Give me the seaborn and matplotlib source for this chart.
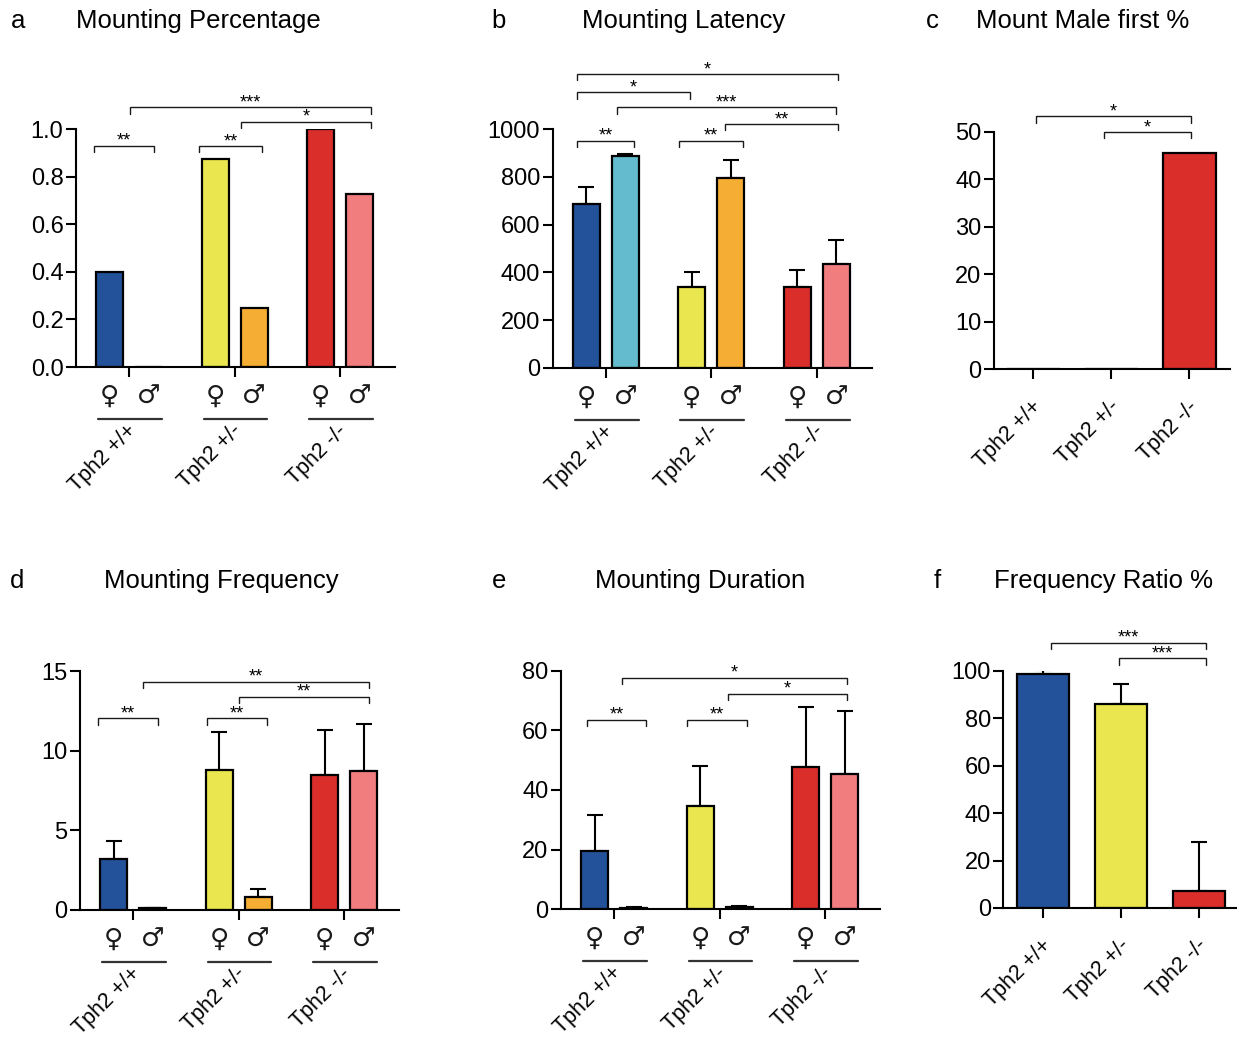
import numpy as np
import pandas as pd
import matplotlib
matplotlib.use("Agg")
import matplotlib.pyplot as plt
import matplotlib.transforms as mtransforms
import seaborn as sns

sns.set_theme(style="ticks")
plt.rcParams["font.family"] = ["Liberation Sans", "DejaVu Sans"]
plt.rcParams["axes.linewidth"] = 1.5
plt.rcParams["text.color"] = "black"
plt.rcParams["xtick.color"] = "black"
plt.rcParams["ytick.color"] = "black"
plt.rcParams["axes.labelcolor"] = "black"

# ---- data -------------------------------------------------------------
genotypes = ["Tph2 +/+", "Tph2 +/-", "Tph2 -/-"]
sexes = ["\u2640", "\u2642"]

pct_female = [0.40, 0.875, 1.0]
pct_male = [0.0, 0.25, 0.727]

lat_female = [685, 338, 340]
lat_female_err = [75, 65, 70]
lat_male = [888, 795, 435]
lat_male_err = [10, 76, 100]

freq_female = [3.2, 8.8, 8.45]
freq_female_err = [1.1, 2.4, 2.85]
freq_male = [0.1, 0.8, 8.75]
freq_male_err = [0.05, 0.5, 2.95]

dur_female = [19.5, 34.8, 47.8]
dur_female_err = [12.0, 13.4, 20.0]
dur_male = [0.5, 0.7, 45.3]
dur_male_err = [0.3, 0.4, 21.3]

first_pct = [0.0, 0.0, 45.5]

ratio_pct = [98.5, 86.0, 7.2]
ratio_err = [1.8, 8.3, 20.5]

female_colors = ["#23529a", "#e9e64f", "#da2e2b"]
male_colors = ["#63bbcd", "#f5ad34", "#f17d7e"]
geno_colors = ["#23529a", "#e9e64f", "#da2e2b"]

# significance brackets: (x_start, x_end, y, label)
brackets_a = [(-0.33, 0.23, 0.93, "**"), (0.657, 1.26, 0.928, "**"),
              (0.003, 2.29, 1.091, "***"), (1.059, 2.29, 1.031, "*")]
brackets_b = [(-0.277, 2.198, 1231, "*"), (-0.277, 0.801, 1155, "*"),
              (0.101, 2.183, 1092, "***"), (-0.277, 0.265, 951, "**"),
              (0.694, 1.30, 952, "**"), (1.132, 2.198, 1021, "**")]
brackets_c = [(0.03, 2.02, 53.2, "*"), (0.91, 2.02, 49.9, "*")]
brackets_d = [(-0.332, 0.231, 12.03, "**"), (0.696, 1.264, 12.03, "**"),
              (0.095, 2.234, 14.33, "**"), (1.002, 2.234, 13.39, "**")]
brackets_e = [(-0.259, 0.303, 63.5, "**"), (0.694, 1.257, 63.5, "**"),
              (0.073, 2.203, 77.7, "*"), (1.077, 2.203, 72.2, "*")]
brackets_f = [(0.095, 2.09, 111.8, "***"), (0.973, 2.09, 105.2, "***")]

W, H = 1237, 1037
fig = plt.figure(figsize=(W / 100, H / 100), dpi=100)


def axes_px(left, right, bottom, top):
    return fig.add_axes([left / W, 1 - bottom / H, (right - left) / W, (bottom - top) / H])


def style_axes(ax, ymax, yticks, fmt):
    ax.set_ylim(0, ymax)
    ax.set_yticks(yticks)
    ax.set_yticklabels([fmt.format(t) for t in yticks], fontsize=17)
    for s in ["top", "right"]:
        ax.spines[s].set_visible(False)
    for s in ["left", "bottom"]:
        ax.spines[s].set_linewidth(1.5)
        ax.spines[s].set_color("black")
    ax.tick_params(axis="both", direction="out", length=7, width=1.5, colors="black",
                   pad=2)
    ax.set_xlabel("")
    ax.set_ylabel("")
    ax.set_facecolor("white")


def draw_brackets(ax, brackets, ymax):
    drop = 0.026 * ymax
    for x1, x2, y, lab in brackets:
        ax.plot([x1, x1, x2, x2], [y - drop, y, y, y - drop], color="#1a1a1a",
                lw=1.0, clip_on=False, solid_joinstyle="miter")
        ax.annotate(lab, xy=((x1 + x2) / 2, y), xytext=(0, 0.0),
                    textcoords="offset points", ha="center", va="baseline",
                    fontsize=13, annotation_clip=False)


def errbars(ax, xs, ys, errs):
    ax.errorbar(xs, ys, yerr=[np.zeros(len(errs)), errs], fmt="none",
                ecolor="black", elinewidth=1.5, capsize=6, capthick=1.5, zorder=1)


def sex_panel(ax, fem, mal, fem_err, mal_err, ymax, yticks, fmt, brackets):
    df = pd.DataFrame({
        "genotype": genotypes * 2,
        "sex": [sexes[0]] * 3 + [sexes[1]] * 3,
        "value": list(fem) + list(mal),
    })
    sns.barplot(data=df, x="genotype", y="value", hue="sex", hue_order=sexes,
                order=genotypes, errorbar=None, width=0.74, gap=0.31,
                edgecolor="black", linewidth=1.6, legend=False, ax=ax, zorder=2)
    for cont, cols in zip(ax.containers, [female_colors, male_colors]):
        for patch, c in zip(cont.patches, cols):
            patch.set_facecolor(c)
            patch.set_zorder(2)
    if fem_err is not None:
        fx = [p.get_x() + p.get_width() / 2 for p in ax.containers[0].patches]
        mx = [p.get_x() + p.get_width() / 2 for p in ax.containers[1].patches]
        errbars(ax, fx, fem, fem_err)
        errbars(ax, mx, mal, mal_err)
    ax.set_xlim(-0.505, 2.52)
    style_axes(ax, ymax, yticks, fmt)
    ax.set_xticks(range(3))
    ax.set_xticklabels([])
    trans = mtransforms.blended_transform_factory(ax.transData, ax.transAxes)
    for cont, sym in zip(ax.containers, sexes):
        for p in cont.patches:
            ax.text(p.get_x() + p.get_width() / 2, -0.125, sym, transform=trans,
                    ha="center", va="center", fontsize=19, fontweight="bold",
                    family="DejaVu Sans", color="#1a1a1a")
    for i, g in enumerate(genotypes):
        ax.plot([i - 0.295, i + 0.31], [-0.218, -0.218], transform=trans,
                color="#333333", lw=1.6, clip_on=False)
        ax.text(i + 0.04, -0.255, g, transform=trans, rotation=45,
                rotation_mode="anchor", ha="right", va="center", fontsize=15.5)
    draw_brackets(ax, brackets, ymax)


def geno_panel(ax, vals, errs, ymax, yticks, fmt, brackets, xr):
    df = pd.DataFrame({"genotype": genotypes, "value": vals})
    sns.barplot(data=df, x="genotype", y="value", hue="genotype", order=genotypes,
                hue_order=genotypes, palette=geno_colors, saturation=1,
                errorbar=None, width=0.67, edgecolor="black", linewidth=1.6,
                legend=False, ax=ax, zorder=2)
    if errs is not None:
        errbars(ax, range(3), vals, errs)
    ax.set_xlim(*xr)
    style_axes(ax, ymax, yticks, fmt)
    ax.set_xticks(range(3))
    ax.set_xticklabels([])
    trans = mtransforms.blended_transform_factory(ax.transData, ax.transAxes)
    for i, g in enumerate(genotypes):
        ax.text(i + 0.07, -0.145, g, transform=trans, rotation=45,
                rotation_mode="anchor", ha="right", va="center", fontsize=15.5)
    draw_brackets(ax, brackets, ymax)


ax_a = axes_px(76, 395, 367, 129)
sex_panel(ax_a, pct_female, pct_male, None, None, 1.0,
          [0, 0.2, 0.4, 0.6, 0.8, 1.0], "{:.1f}", brackets_a)

ax_b = axes_px(552.7, 871.7, 367.7, 129.3)
sex_panel(ax_b, lat_female, lat_male, lat_female_err, lat_male_err, 1000,
          [0, 200, 400, 600, 800, 1000], "{:d}", brackets_b)

ax_c = axes_px(994, 1230, 369.3, 131.7)
geno_panel(ax_c, first_pct, None, 50, [0, 10, 20, 30, 40, 50], "{:d}",
           brackets_c, (-0.505, 2.52))

ax_d = axes_px(80, 399, 910, 671)
sex_panel(ax_d, freq_female, freq_male, freq_female_err, freq_male_err, 15,
          [0, 5, 10, 15], "{:d}", brackets_d)

ax_e = axes_px(561, 880, 909.3, 670.7)
sex_panel(ax_e, dur_female, dur_male, dur_female_err, dur_male_err, 80,
          [0, 20, 40, 60, 80], "{:d}", brackets_e)

ax_f = axes_px(1003.3, 1237, 908, 670.7)
geno_panel(ax_f, ratio_pct, ratio_err, 100, [0, 20, 40, 60, 80, 100], "{:d}",
           brackets_f, (-0.514, 2.49))

# panel letters and titles
heads = [("a", 18, 21, "Mounting Percentage", 198),
         ("b", 499, 21, "Mounting Latency", 684),
         ("c", 932, 21, "Mount Male first %", 1083),
         ("d", 17, 581, "Mounting Frequency", 221),
         ("e", 499, 581, "Mounting Duration", 700),
         ("f", 937, 581, "Frequency Ratio %", 1103)]
for letter, lx, ly, title, tx in heads:
    fig.text(lx / W, 1 - ly / H, letter, ha="center", va="center", fontsize=18.5)
    fig.text(tx / W, 1 - ly / H, title, ha="center", va="center", fontsize=18.5)

fig.savefig("out.png", dpi=100, facecolor="white")
